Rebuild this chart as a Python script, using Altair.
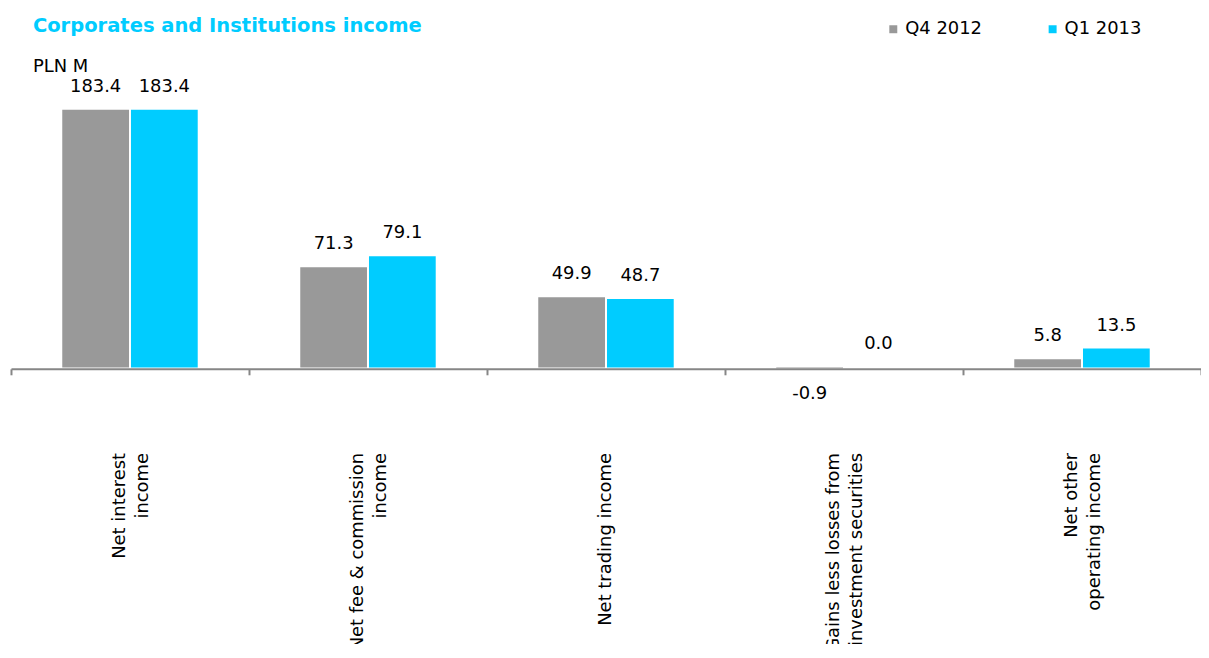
import altair as alt
import pandas as pd

categories = [
    "Net interest\nincome",
    "Net fee & commission\nincome",
    "Net trading income",
    "Gains less losses from\ninvestment securities",
    "Net other\noperating income",
]
series = ["Q4 2012", "Q1 2013"]
q4_2012 = [183.4, 71.3, 49.9, -0.9, 5.8]
q1_2013 = [183.4, 79.1, 48.7, 0.0, 13.5]
colors = ["#999999", "#00CCFF"]

rows = []
for c, a, b in zip(categories, q4_2012, q1_2013):
    rows.append({"category": c, "series": series[0], "value": a})
    rows.append({"category": c, "series": series[1], "value": b})
df = pd.DataFrame(rows)

FONT = "DejaVu Sans"

x = alt.X(
    "category:N",
    sort=categories,
    scale=alt.Scale(paddingInner=0, paddingOuter=0),
    axis=alt.Axis(
        title=None,
        labelAngle=-90,
        labelAlign="right",
        labelBaseline="middle",
        labelExpr="isValid(datum.value) && datum.value != '' ? split(datum.value, '\\n') : ''",
        labelOffset={"condition": {"test": "isValid(datum.value) && indexof(datum.value, '\\n') >= 0", "value": -11}, "value": 0},
        labelFont=FONT,
        labelFontSize=18,
        labelColor="#000000",
        labelLineHeight=24,
        labelPadding=78,
        labelLimit=400,
        tickBand="extent",
        tickSize=6,
        tickColor="#868686",
        tickWidth=2,
        domainColor="#868686",
        domainWidth=2,
        grid=False,
    ),
)
xo = alt.XOffset("series:N", sort=series,
                 scale=alt.Scale(paddingInner=0.029, paddingOuter=0.746))
y = alt.Y("value:Q", scale=alt.Scale(domain=[-1, 218], nice=False, zero=True), axis=None)

base = alt.Chart(df).encode(x=x, xOffset=xo, y=y).transform_calculate(
    label="replace(format(datum.value, '.1f'), '\u2212', '-')"
)

bars = base.mark_bar().encode(
    color=alt.Color(
        "series:N",
        sort=series,
        scale=alt.Scale(domain=series, range=colors),
        legend=alt.Legend(
            title=None,
            orient="none",
            direction="horizontal",
            legendX=877,
            legendY=-41,
            symbolType="square",
            symbolSize=64,
            symbolStrokeWidth=0,
            labelFont=FONT,
            labelFontSize=18,
            labelColor="#000000",
            labelOffset=3,
            columnPadding=61,
        ),
    )
)

pos_text = base.transform_filter("datum.value >= 0").mark_text(
    baseline="bottom", dy=-14, font=FONT, fontSize=18, color="#000000"
).encode(text="label:N")

neg_text = base.transform_filter("datum.value < 0").mark_text(
    baseline="top", dy=16, font=FONT, fontSize=18, color="#000000"
).encode(text="label:N")

chart = alt.layer(bars, pos_text, neg_text).properties(
    width=1195,
    height=309,
    autosize=alt.AutoSizeParams(type="none"),
    padding={"left": 3, "top": 52, "right": 0, "bottom": 275},
    title=alt.Title(
        "Corporates and Institutions income",
        subtitle="PLN M",
        anchor="start",
        frame="group",
        dx=22,
        dy=61,
        font=FONT,
        fontSize=19.6,
        fontWeight="bold",
        color="#00CCFF",
        subtitleFont=FONT,
        subtitleFontSize=18,
        subtitleColor="#000000",
        subtitlePadding=22,
        offset=4,
    ),
).configure_view(stroke=None)

chart.save("out.html", embed_options={"renderer": "svg", "actions": False})
